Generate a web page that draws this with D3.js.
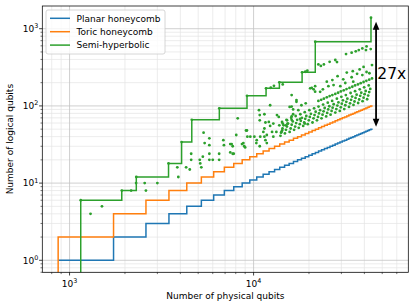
<!DOCTYPE html>
<html><head><meta charset="utf-8">
<script src="https://cdn.jsdelivr.net/npm/d3@7/dist/d3.min.js"></script>
<style>body{margin:0;background:#fff}svg{display:block;font-family:"DejaVu Sans",sans-serif}</style>
</head><body><svg id="c" width="415" height="308"></svg>
<script>
// ---- data ----
const planarN = [867,1734,2601,3468,4335,5202,6069,6936,7803,8670,9537,10404,11271,12138,13005,13872,14739,15606,16473,17340,18207,19074,19941,20808,21675,22542,23409,24276,25143,26010,26877,27744,28611,29478,30345,31212,32079,32946,33813,34680,35547,36414,37281,38148,39015,39882,40749,41616,42483,43350,44340];
const planarK = [1,2,3,4,5,6,7,8,9,10,11,12,13,14,15,16,17,18,19,20,21,22,23,24,25,26,27,28,29,30,31,32,33,34,35,36,37,38,39,40,41,42,43,44,45,46,47,48,49,50,50];
const toricN = [867,1734,2601,3468,4335,5202,6069,6936,7803,8670,9537,10404,11271,12138,13005,13872,14739,15606,16473,17340,18207,19074,19941,20808,21675,22542,23409,24276,25143,26010,26877,27744,28611,29478,30345,31212,32079,32946,33813,34680,35547,36414,37281,38148,39015,39882,40749,41616,42483,43350,44340];
const toricK = [2,4,6,8,10,12,14,16,18,20,22,24,26,28,30,32,34,36,38,40,42,44,46,48,50,52,54,56,58,60,62,64,66,68,70,72,74,76,78,80,82,84,86,88,90,92,94,96,98,100,100];
const semiEnvN = [1150,1922,2305,3450,4063,4615,6514,9210,11690,13810,18350,21640,43450];
const semiEnvK = [6,8,12,18,34,66,93,135,169,202,272,678,1390];
const semiPoints = [
[1150,6],[1300,4],[1500,5],[1922,8],[2160,8],[2305,12],[2300,10],[2560,10],[2600,8],[3000,10],[3450,18],[3850,16],[3900,12],[4300,16],[4500,15],[4063,34],[4580,24],[4580,20],[5100,20],[5130,18],[5200,16],[5750,20],[6000,20],[6500,20],[5750,24],[6500,24],[4615,66],[5350,45],[5750,38],[5420,33],[5750,31],[5300,22],[6850,36],[6900,31],[7600,32],[7700,30],[7470,25],[7700,24],[8050,42],[8200,69],[8650,32],[9000,29],[9200,48],[9250,40],[6514,93],[9210,135],
[7470,32],[7800,24],[8800,33],[8900,30],[9100,48],[9600,40],[10100,40],[10400,36],[10350,33],[10800,30],[10870,40],[11300,46],[11450,40],[11450,51],[11600,36],[11800,33],[11800,42],[12300,55],[12600,46],[12800,40],[13300,46],[14100,45],[14300,48],[13800,56],[14400,59],[15000,56],[15300,59],[15200,65],[16100,66],[16100,73],[10800,65],[11600,61],[12800,59],[11450,78],[10700,88],[10800,76],[12100,62],[13400,76],[13700,72],[12300,102],[16100,98],[16400,78],[17100,119],[17500,88],[17900,68],[19000,59],[16100,138],[17100,113],[21200,164],[11690,169],[12400,172],[12900,182],[13810,202],[14400,190],[20300,169],[23000,152],[19100,277],[19600,286],[18350,272],
[15700,97],[16400,90],[18200,102],[19200,108],
[31800,470],[34100,490],[35900,510],[37300,529],[39000,555],[40800,529],[41100,590],[43300,545],
[22500,345],[23200,330],[24100,345],[25900,373],[27800,393],[28400,370],
[32100,270],[34600,282],[37700,297],[39600,320],[41100,275],[44000,338],
[25000,206],[26800,216],[28600,243],[30700,221],[34100,235],[36500,260],[39000,251],[42600,265],
[20700,171],[21600,180],[21600,153],[23800,164],[25500,180],[27200,186],[29600,180],[31500,198],[34800,206],
[21640,678],[43450,1390],
[22500,116],[23300,120],[24100,124],[25000,129],[25900,134],[26800,138],[27800,143],[28800,148],[29800,154],[30900,159],[32000,165],[33200,171],[34400,177],[35600,184],[36900,190],[38200,197],[39600,204],[41000,211],[42500,219],[44000,227],
[14000,41],[14180,46],[14360,51],[14560,56],
[14800,44],[14990,49],[15180,54],[15390,59],
[15700,46],[15900,51],[16110,57],[16330,63],
[16600,49],[16820,54],[17030,60],[17260,66],
[17600,52],[17830,58],[18060,64],[18300,70],
[18600,55],[18840,61],[19080,68],[19340,74],
[19700,58],[19960,65],[20210,72],[20490,79],
[20900,61],[21170,69],[21440,76],[21740,84],
[22100,65],[22390,72],[22670,80],[22980,88],
[23400,69],[23700,77],[24010,85],[24340,94],
[24800,73],[25120,81],[25440,90],[25790,99],
[26200,77],[26540,86],[26880,95],[27250,105],
[27800,82],[28160,91],[28520,101],[28910,111],
[29400,86],[29780,96],[30160,107],[30580,118],
[31100,91],[31500,102],[31910,113],[32340,124],
[33000,97],[33430,108],[33860,120],[34320,132],
[34900,103],[35350,114],[35810,127],[36300,140],
[37000,109],[37480,121],[37960,135],[38480,148],
[39100,115],[39610,128],[40120,142],[40660,156],
[41400,122],[41940,136],[42480,151],[43060,166],
[14280,62],[15100,66],[16010,70],[16930,74],[17950,78],[18970,83],[20090,88],[21320,93],[22540,98],[23870,104],[25300,110],[26720,116],[28360,124],[29990,131],[31720,138],[33660,147],[35600,155],[37740,164],[39880,174],[42230,184]
];
const seriesNames = ["Planar honeycomb","Toric honeycomb","Semi-hyperbolic"];
const colors = ["#1f77b4","#ff7f0e","#2ca02c"];
const xDomain = [711, 69300], yDomain = [0.699, 1969];
const arrowN = 46300, arrowLow = 50, arrowHigh = 1390, ratioLabel = "27x";

// ---- layout ----
const L = 42.3, R = 408.3, T = 6, B = 272.3;
const svg = d3.select("#c");
const x = d3.scaleLog().domain(xDomain).range([L, R]);
const y = d3.scaleLog().domain(yDomain).range([B, T]);
const isMajor = t => Math.abs(Math.log10(t) - Math.round(Math.log10(t))) < 1e-9;

svg.append("defs").append("clipPath").attr("id","clip").append("rect")
  .attr("x",L).attr("y",T).attr("width",R-L).attr("height",B-T);

const xt = x.ticks().filter(t => t>=xDomain[0] && t<=xDomain[1]);
const yt = y.ticks().filter(t => t>=yDomain[0] && t<=yDomain[1]);
const grid = svg.append("g");
grid.selectAll(".xm").data(xt.filter(t=>!isMajor(t))).join("line")
  .attr("x1",d=>x(d)).attr("x2",d=>x(d)).attr("y1",T).attr("y2",B)
  .attr("stroke","#e4e4e4").attr("stroke-width",0.7);
grid.selectAll(".ym").data(yt.filter(t=>!isMajor(t))).join("line")
  .attr("y1",d=>y(d)).attr("y2",d=>y(d)).attr("x1",L).attr("x2",R)
  .attr("stroke","#e4e4e4").attr("stroke-width",0.7);
grid.selectAll(".xM").data(xt.filter(isMajor)).join("line")
  .attr("x1",d=>x(d)).attr("x2",d=>x(d)).attr("y1",T).attr("y2",B)
  .attr("stroke","#c4c4c4").attr("stroke-width",0.8);
grid.selectAll(".yM").data(yt.filter(isMajor)).join("line")
  .attr("y1",d=>y(d)).attr("y2",d=>y(d)).attr("x1",L).attr("x2",R)
  .attr("stroke","#c4c4c4").attr("stroke-width",0.8);

// ---- step lines ----
function stepPath(ns, ks, fromAxis){
  let p = fromAxis ? `M${x(ns[0])},${B+5}V${y(ks[0])}` : `M${x(ns[0])},${y(ks[0])}`;
  for(let i=1;i<ns.length;i++){ p += `H${x(ns[i])}V${y(ks[i])}`; }
  return p;
}
const plot = svg.append("g").attr("clip-path","url(#clip)");
plot.append("path").attr("d",stepPath(planarN,planarK,false)).attr("fill","none")
  .attr("stroke",colors[0]).attr("stroke-width",1.5);
plot.append("path").attr("d",stepPath(toricN,toricK,true)).attr("fill","none")
  .attr("stroke",colors[1]).attr("stroke-width",1.5);
plot.append("path").attr("d",stepPath(semiEnvN,semiEnvK,true)).attr("fill","none")
  .attr("stroke",colors[2]).attr("stroke-width",1.5);
plot.selectAll("circle").data(semiPoints).join("circle")
  .attr("cx",d=>x(d[0])).attr("cy",d=>y(d[1])).attr("r",1.4).attr("fill",colors[2]);

// ---- axes frame & ticks ----
const ax = svg.append("g");
ax.selectAll(".xtM").data(xt).join("line")
  .attr("x1",d=>x(d)).attr("x2",d=>x(d)).attr("y1",B).attr("y2",d=>B+(isMajor(d)?3.2:1.8))
  .attr("stroke","#000").attr("stroke-width",d=>isMajor(d)?0.75:0.55);
ax.selectAll(".ytM").data(yt).join("line")
  .attr("y1",d=>y(d)).attr("y2",d=>y(d)).attr("x1",L).attr("x2",d=>L-(isMajor(d)?3.2:1.8))
  .attr("stroke","#000").attr("stroke-width",d=>isMajor(d)?0.75:0.55);
ax.append("rect").attr("x",L).attr("y",T).attr("width",R-L).attr("height",B-T)
  .attr("fill","none").attr("stroke","#000").attr("stroke-width",0.75);

function powLabel(sel, t){
  sel.text("10");
  sel.append("tspan").attr("dy",-3.8).attr("font-size",6.4).text(Math.round(Math.log10(t)));
}
xt.filter(isMajor).forEach(t=>{
  const tx = ax.append("text").attr("x",x(t)).attr("y",B+14.5).attr("text-anchor","middle")
    .attr("font-size",9).attr("fill","#000");
  powLabel(tx,t);
});
yt.filter(isMajor).forEach(t=>{
  const tx = ax.append("text").attr("x",L-19.5).attr("y",y(t)+3.3)
    .attr("font-size",9).attr("fill","#000");
  powLabel(tx,t);
});
svg.append("text").attr("x",(L+R)/2).attr("y",299).attr("text-anchor","middle")
  .attr("font-size",9).text("Number of physical qubits");
svg.append("text").attr("transform",`translate(12.5,${(T+B)/2}) rotate(-90)`).attr("text-anchor","middle")
  .attr("font-size",9).text("Number of logical qubits");

// ---- arrow annotation ----
const axp = x(arrowN), yTop = y(arrowHigh)+4, yBot = y(arrowLow)-2.5;
const an = svg.append("g");
an.append("line").attr("x1",axp).attr("x2",axp).attr("y1",yTop+6).attr("y2",yBot-6)
  .attr("stroke","#000").attr("stroke-width",1.8);
an.append("path").attr("d",`M${axp},${yTop}L${axp-3.3},${yTop+8}L${axp+3.3},${yTop+8}Z`).attr("fill","#000");
an.append("path").attr("d",`M${axp},${yBot}L${axp-3.3},${yBot-8}L${axp+3.3},${yBot-8}Z`).attr("fill","#000");
an.append("text").attr("x",axp+1.2).attr("y",(yTop+yBot)/2+5.2).attr("font-size",15.5).text(ratioLabel);

// ---- legend ----
const lg = svg.append("g");
lg.append("rect").attr("x",46).attr("y",10).attr("width",119).attr("height",44).attr("rx",2)
  .attr("fill","#fff").attr("fill-opacity",0.8).attr("stroke","#cccccc").attr("stroke-width",0.8);
seriesNames.forEach((nm,i)=>{
  const yy = 18.3 + i*13.4;
  lg.append("line").attr("x1",50).attr("x2",70).attr("y1",yy).attr("y2",yy)
    .attr("stroke",colors[i]).attr("stroke-width",1.5);
  lg.append("text").attr("x",76.5).attr("y",yy+3.3).attr("font-size",9).text(nm);
});
</script></body></html>
